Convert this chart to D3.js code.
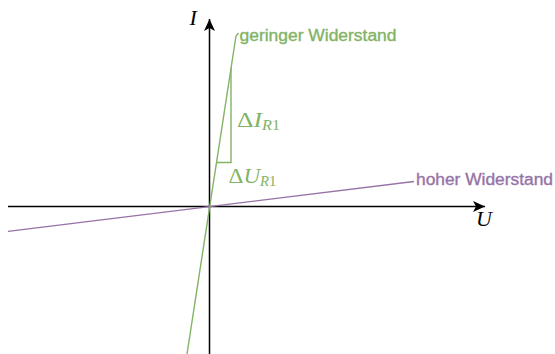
<!DOCTYPE html>
<html>
<head>
<meta charset="utf-8">
<script src="https://cdn.jsdelivr.net/npm/d3@7"></script>
<style>
  html, body { margin: 0; padding: 0; background: #fff; }
  svg { display: block; }
  .lbl { font-family: "Liberation Sans", Arial, sans-serif; font-size: 16px; stroke-width: 0.35px; }
  .math { font-family: "Liberation Serif", "DejaVu Serif", serif; }
</style>
</head>
<body>
<svg id="chart" width="555" height="354"></svg>
<script>
// axis ranges (U horizontal, I vertical), arbitrary units
var uDomain = [-2.015, 2.755];
var iDomain = [-1.48, 1.88];

// low resistance (steep) line
var greenU = [-0.225, 0.265, 0.29];
var greenI = [-1.48, 1.71, 1.74];

// high resistance (flat) line
var purpleU = [-2.015, 2.045];
var purpleI = [-0.25, 0.25];

// slope triangle on the steep line
var triU = [0.215, 0.215, 0.07];
var triI = [1.39, 0.44, 0.44];

var lineLabels = ["geringer Widerstand", "hoher Widerstand"];
var axisNames = ["U", "I"];

var green = "#82b366";
var purple = "#9673a6";

var svg = d3.select("#chart");
var x = d3.scaleLinear().domain(uDomain).range([8, 485]);
var y = d3.scaleLinear().domain(iDomain).range([354, 19]);

var defs = svg.append("defs");
defs.append("marker").attr("id", "arr")
    .attr("markerUnits", "userSpaceOnUse")
    .attr("viewBox", "0 0 12 12")
    .attr("refX", 12).attr("refY", 6)
    .attr("markerWidth", 12).attr("markerHeight", 12)
    .attr("orient", "auto")
    .append("path").attr("d", "M0,0.5 L12,6 L0,11.5 L3,6 Z").attr("fill", "#000");

var line = d3.line()
    .x(function(d) { return x(d[0]); })
    .y(function(d) { return y(d[1]); });

// axes
svg.append("path").attr("d", line([[uDomain[0], 0], [uDomain[1], 0]]))
    .attr("stroke", "#000").attr("stroke-width", 1.5).attr("fill", "none")
    .attr("marker-end", "url(#arr)");
svg.append("path").attr("d", line([[0, iDomain[0]], [0, iDomain[1]]]))
    .attr("stroke", "#000").attr("stroke-width", 1.5).attr("fill", "none")
    .attr("marker-end", "url(#arr)");

// lines
svg.append("path").attr("d", line(d3.zip(purpleU, purpleI)))
    .attr("stroke", purple).attr("stroke-width", 1.4).attr("fill", "none");
svg.append("path").attr("d", line(d3.zip(greenU, greenI)))
    .attr("stroke", green).attr("stroke-width", 1.4).attr("fill", "none");
svg.append("path").attr("d", line(d3.zip(triU, triI)))
    .attr("stroke", green).attr("stroke-width", 1.4).attr("fill", "none");

// line labels
var gEnd = greenU.length - 1, pEnd = purpleU.length - 1;
svg.append("text").attr("class", "lbl").attr("fill", green).attr("stroke", green)
    .attr("x", x(greenU[gEnd]) + 1).attr("y", y(greenI[gEnd]) + 8)
    .attr("textLength", 157).attr("lengthAdjust", "spacingAndGlyphs")
    .text(lineLabels[0]);
svg.append("text").attr("class", "lbl").attr("fill", purple).attr("stroke", purple)
    .attr("x", x(purpleU[pEnd]) + 2).attr("y", y(purpleI[pEnd]) + 3)
    .attr("textLength", 137).attr("lengthAdjust", "spacingAndGlyphs")
    .text(lineLabels[1]);

// delta labels
function deltaLabel(px, py, v, w) {
    var t = svg.append("text").attr("class", "math").attr("fill", green)
        .attr("x", px).attr("y", py).attr("font-size", 22)
        .attr("textLength", w).attr("lengthAdjust", "spacingAndGlyphs");
    t.append("tspan").text("\u0394");
    t.append("tspan").attr("font-style", "italic").text(v);
    var s = t.append("tspan").attr("dy", 3).attr("font-size", 14);
    s.append("tspan").attr("font-style", "italic").text("R");
    s.append("tspan").text("1");
}
deltaLabel(x(triU[0]) + 6, y((triI[0] + triI[1]) / 2) + 12, "I", 43);
deltaLabel(x(triU[2]) + 12, y(triI[2]) + 20, "U", 48);

// axis names
svg.append("text").attr("class", "math").attr("font-style", "italic")
    .attr("font-size", 22).attr("x", x(uDomain[1]) - 9).attr("y", y(0) + 20)
    .text(axisNames[0]);
svg.append("text").attr("class", "math").attr("font-style", "italic")
    .attr("font-size", 22).attr("x", x(0) - 20).attr("y", y(iDomain[1]) + 6)
    .text(axisNames[1]);
</script>
</body>
</html>
